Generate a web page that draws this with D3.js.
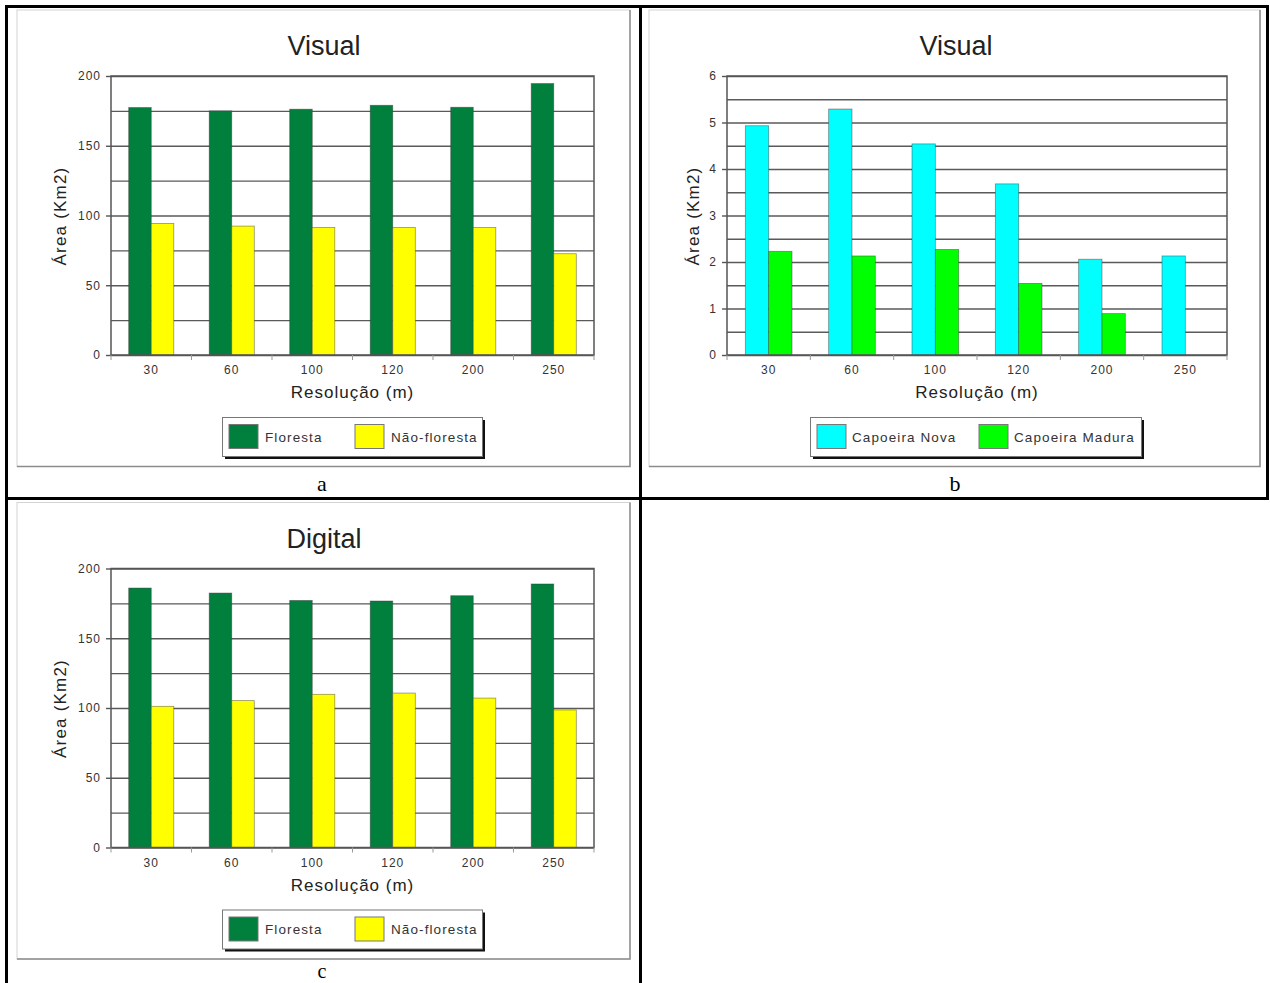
<!DOCTYPE html>
<html lang="pt">
<head>
<meta charset="utf-8">
<title>Área por resolução</title>
<script src="https://cdn.jsdelivr.net/npm/d3@7"></script>
<style>
  html, body { margin: 0; padding: 0; background: #fff; }
  svg { display: block; }
  text { font-family: "Liberation Sans", Arial, Helvetica, sans-serif; }
  text.tag { font-family: "Liberation Serif", "Times New Roman", serif; }
</style>
</head>
<body>
<svg id="fig" width="1270" height="983"></svg>
<script>
// Resolução espacial (m)
const resolucoes = ["30", "60", "100", "120", "200", "250"];

// a) Classificação visual: floresta / não-floresta (Km2)
const florestaVisual    = [177.4, 175.0, 176.2, 179.0, 177.6, 194.6];
const naoFlorestaVisual = [94.3, 92.4, 91.4, 91.4, 91.4, 72.6];

// b) Classificação visual: capoeira (Km2)
const capoeiraNovaVisual   = [4.93, 5.29, 4.54, 3.68, 2.06, 2.13];
const capoeiraMaduraVisual = [2.23, 2.13, 2.27, 1.54, 0.89, null];

// c) Classificação digital: floresta / não-floresta (Km2)
const florestaDigital    = [186.0, 182.4, 177.1, 176.7, 180.5, 188.9];
const naoFlorestaDigital = [101.2, 105.3, 109.8, 110.7, 107.1, 98.6];

// Eixos
const ticksArea       = [0, 50, 100, 150, 200];
const gradeArea       = [0, 25, 50, 75, 100, 125, 150, 175, 200];
const ticksCapoeira   = [0, 1, 2, 3, 4, 5, 6];
const gradeCapoeira   = [0, 0.5, 1, 1.5, 2, 2.5, 3, 3.5, 4, 4.5, 5, 5.5, 6];

const corFloresta    = "#007f3d";
const corNaoFloresta = "#ffff00";
const corCapNova     = "#00ffff";
const corCapMadura   = "#00ff00";

const svg = d3.select("#fig");

function painel(g, cfg) {
  // moldura do gráfico
  const f = cfg.frame;
  g.append("rect").attr("x", f.x).attr("y", f.y).attr("width", f.w).attr("height", f.h)
    .attr("fill", "#fff").attr("stroke", "#d4d4d4").attr("stroke-width", 1);
  g.append("path")
    .attr("d", `M${f.x + f.w},${f.y} V${f.y + f.h} H${f.x}`)
    .attr("fill", "none").attr("stroke", "#8c8c8c").attr("stroke-width", 1.5);

  const p = cfg.plot;
  const x = d3.scaleBand().domain(resolucoes).range([p.x0, p.x1])
    .paddingInner(0.44).paddingOuter(0.22);
  const xs = d3.scaleBand().domain([0, 1]).range([0, x.bandwidth()]);
  const y = d3.scaleLinear().domain(cfg.domain).range([p.y1, p.y0]);

  // grade horizontal
  g.append("g").attr("transform", `translate(${p.x0},0)`)
    .call(d3.axisLeft(y).tickValues(cfg.grid).tickSize(-(p.x1 - p.x0)).tickFormat(""))
    .call(s => s.select(".domain").remove())
    .call(s => s.selectAll("line").attr("stroke", "#5a5a5a").attr("stroke-width", 1.4));

  // barras
  cfg.series.forEach((serie, si) => {
    g.append("g").selectAll("rect")
      .data(serie.values.map((v, i) => ({ v, k: resolucoes[i] })).filter(d => d.v != null))
      .join("rect")
      .attr("x", d => x(d.k) + xs(si))
      .attr("width", xs.bandwidth())
      .attr("y", d => y(d.v))
      .attr("height", d => y(0) - y(d.v))
      .attr("fill", serie.color)
      .attr("stroke", "rgba(60,60,60,0.55)").attr("stroke-width", 0.8);
  });

  // área de plotagem
  g.append("rect").attr("x", p.x0).attr("y", p.y0)
    .attr("width", p.x1 - p.x0).attr("height", p.y1 - p.y0)
    .attr("fill", "none").attr("stroke", "#555").attr("stroke-width", 1.5);

  // eixo Y
  g.append("g").attr("transform", `translate(${p.x0},0)`)
    .call(d3.axisLeft(y).tickValues(cfg.ticks).tickSize(5).tickPadding(5).tickFormat(d3.format("d")))
    .call(s => s.select(".domain").remove())
    .call(s => s.selectAll("line").attr("stroke", "#555").attr("stroke-width", 1.4))
    .call(s => s.selectAll("text").attr("font-size", 12).attr("letter-spacing", 1)
      .attr("fill", "#333"));

  // eixo X
  const step = x.step();
  const limites = d3.range(resolucoes.length + 1).map(i => p.x0 + i * step);
  g.append("g").selectAll("line").data(limites).join("line")
    .attr("x1", d => d).attr("x2", d => d)
    .attr("y1", p.y1).attr("y2", p.y1 + 5)
    .attr("stroke", "#999").attr("stroke-width", 1);
  g.append("g").attr("transform", `translate(0,${p.y1})`)
    .call(d3.axisBottom(x).tickSize(0).tickPadding(10.5))
    .call(s => s.select(".domain").remove())
    .call(s => s.selectAll("text").attr("font-size", 12).attr("letter-spacing", 1)
      .attr("fill", "#333"));

  // títulos
  g.append("text").attr("x", cfg.titleX).attr("y", 55)
    .attr("text-anchor", "middle").attr("font-size", 27).attr("fill", "#222")
    .text(cfg.title);
  g.append("text").attr("x", (p.x0 + p.x1) / 2).attr("y", 398)
    .attr("text-anchor", "middle").attr("font-size", 17).attr("letter-spacing", 1)
    .attr("fill", "#222").text("Resolução (m)");
  g.append("text").attr("transform", `translate(${cfg.yTitleX},216) rotate(-90)`)
    .attr("text-anchor", "middle").attr("font-size", 17).attr("letter-spacing", 1.2)
    .attr("fill", "#222").text("Área (Km2)");

  // legenda
  const L = cfg.legend;
  g.append("rect").attr("x", L.x + 2.5).attr("y", L.y + 2.5).attr("width", L.w).attr("height", L.h)
    .attr("fill", "#111");
  g.append("rect").attr("x", L.x).attr("y", L.y).attr("width", L.w).attr("height", L.h)
    .attr("fill", "#fff").attr("stroke", "#777").attr("stroke-width", 1);
  const itens = g.append("g").selectAll("g").data(cfg.series).join("g");
  itens.append("rect")
    .attr("x", (d, i) => L.sw[i]).attr("y", L.y + 7)
    .attr("width", 29).attr("height", 24)
    .attr("fill", d => d.color).attr("stroke", "#777").attr("stroke-width", 1);
  itens.append("text")
    .attr("x", (d, i) => L.tx[i]).attr("y", L.y + 24)
    .attr("font-size", 13.5).attr("letter-spacing", 1.1).attr("fill", "#333")
    .text(d => d.name);

  // letra do painel
  g.append("text").attr("class", "tag").attr("x", cfg.tagX).attr("y", cfg.tagY)
    .attr("text-anchor", "middle").attr("font-size", cfg.tagSize || 22)
    .attr("fill", "#000").text(cfg.tag);
}

const serieFlorestaVis = [
  { name: "Floresta", color: corFloresta, values: florestaVisual },
  { name: "Não-floresta", color: corNaoFloresta, values: naoFlorestaVisual }
];
const serieCapoeira = [
  { name: "Capoeira Nova", color: corCapNova, values: capoeiraNovaVisual },
  { name: "Capoeira Madura", color: corCapMadura, values: capoeiraMaduraVisual }
];
const serieFlorestaDig = [
  { name: "Floresta", color: corFloresta, values: florestaDigital },
  { name: "Não-floresta", color: corNaoFloresta, values: naoFlorestaDigital }
];

const layoutArea = {
  frame: { x: 17, y: 10, w: 613, h: 456.5 },
  plot: { x0: 111, x1: 594, y0: 76, y1: 355 },
  domain: [0, 200], ticks: ticksArea, grid: gradeArea,
  titleX: 324, yTitleX: 66, tagX: 322, tagY: 491,
  legend: { x: 222.5, y: 417.5, w: 260, h: 39, sw: [229, 355], tx: [265, 391] }
};

painel(svg.append("g"), Object.assign({}, layoutArea,
  { title: "Visual", tag: "a", series: serieFlorestaVis }));

painel(svg.append("g"), {
  frame: { x: 649, y: 10, w: 611, h: 456.5 },
  plot: { x0: 727, x1: 1227, y0: 76, y1: 355 },
  domain: [0, 6], ticks: ticksCapoeira, grid: gradeCapoeira,
  titleX: 956, yTitleX: 699, tagX: 955, tagY: 491,
  legend: { x: 810.5, y: 417.5, w: 331, h: 39, sw: [817, 979], tx: [852, 1014] },
  title: "Visual", tag: "b", series: serieCapoeira
});

painel(svg.append("g").attr("transform", "translate(0,492.5)"), Object.assign({}, layoutArea,
  { title: "Digital", tag: "c", tagY: 485.5, tagSize: 20, series: serieFlorestaDig }));

// bordas da tabela
const bordas = [
  { x: 5, y: 5, w: 1264, h: 3 },
  { x: 5, y: 5, w: 3, h: 978 },
  { x: 639, y: 5, w: 3, h: 978 },
  { x: 5, y: 497, w: 1264, h: 3 },
  { x: 1266, y: 5, w: 3, h: 495 }
];
svg.append("g").selectAll("rect").data(bordas).join("rect")
  .attr("x", d => d.x).attr("y", d => d.y).attr("width", d => d.w).attr("height", d => d.h)
  .attr("fill", "#000");
</script>
</body>
</html>
